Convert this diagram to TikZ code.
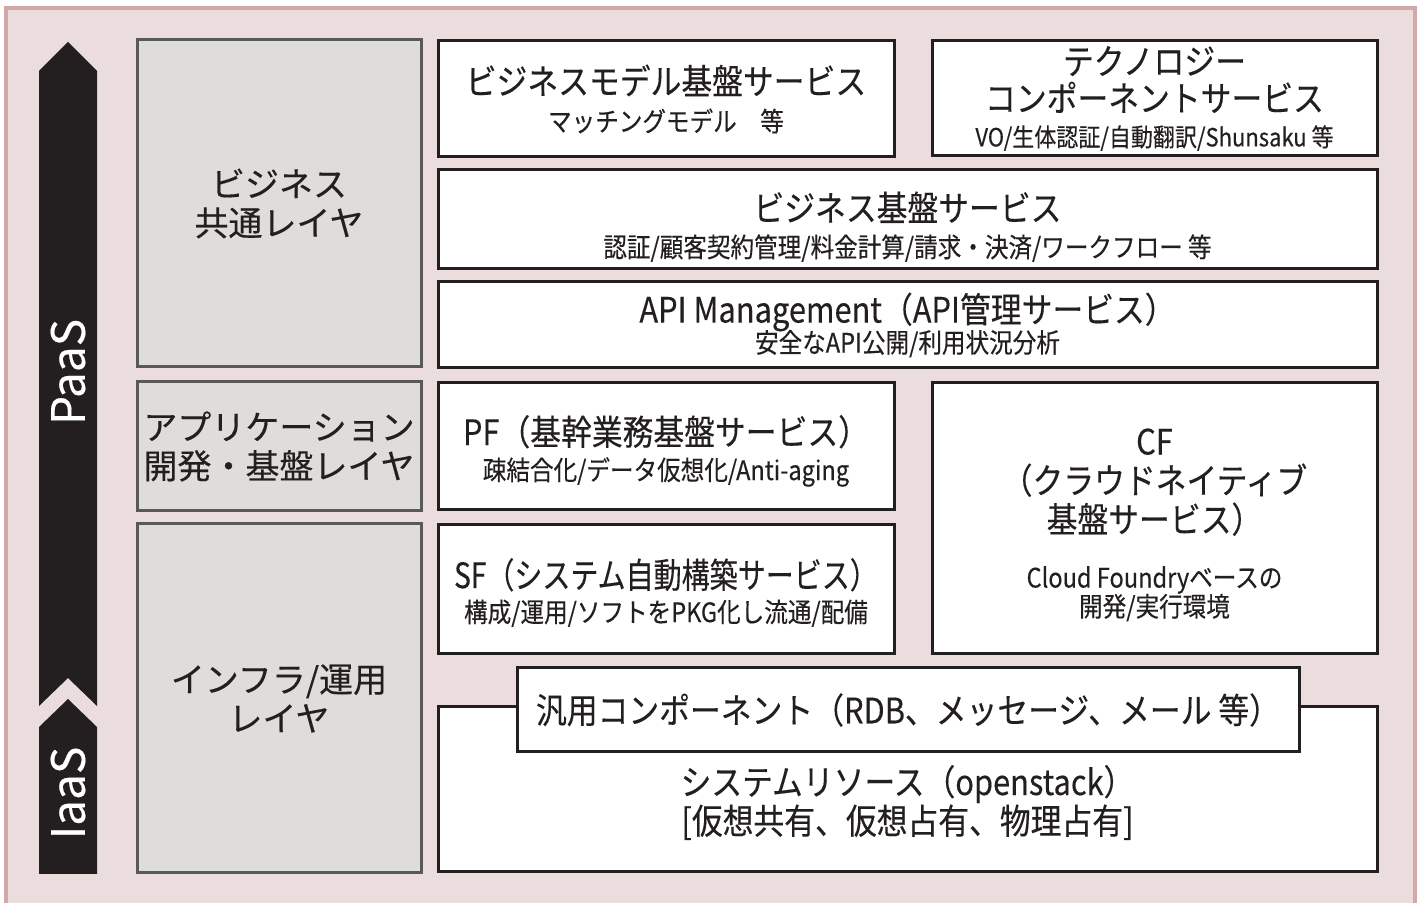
\documentclass[tikz,border=0pt]{standalone}
\usepackage{fontspec}
\usepackage{xcolor}
\usepackage{graphicx}
\newfontfamily\jpfont[FakeBold=0.3]{Noto Sans CJK JP}
\newfontfamily\jpnarrow[FakeStretch=0.88, FakeBold=0.3]{Noto Sans CJK JP}
\definecolor{framepink}{HTML}{EBDDDD}
\definecolor{framerose}{HTML}{D3A8A8}
\definecolor{layerfill}{HTML}{DFDDDA}
\definecolor{layerline}{HTML}{595959}
\definecolor{inkblack}{HTML}{231F20}
\newcommand{\subtxt}[1]{{\fontsize{13.4}{15}\selectfont #1}}
\newcommand{\lowerby}[1]{\rule{0pt}{#1}}

\tikzset{
  layerbox/.style={draw=layerline, fill=layerfill, line width=1.5pt, align=center, inner sep=0pt,
    text=inkblack, font=\jpfont\fontsize{17}{19.5}\selectfont},
  svcbox/.style={draw=inkblack, fill=white, line width=1.5pt, align=center, inner sep=0pt,
    text=inkblack, font=\jpnarrow\fontsize{17.5}{19.5}\selectfont},
  tierlabel/.style={text=white, rotate=90, inner sep=0pt, font=\jpfont\fontsize{23}{26}\selectfont}
}

\begin{document}
\begin{tikzpicture}[x=0.5pt, y=-0.5pt]
  \useasboundingbox (0,0) rectangle (1421,903);
  \clip (0,0) rectangle (1421,903);
  % outer frame
  \draw[draw=framerose, fill=framepink, line width=2pt] (6,8) rectangle (1415,940);

  % PaaS / IaaS arrows
  \fill[inkblack] (39,71) -- (68,42) -- (97,71) -- (97,706) -- (68,678) -- (39,706) -- cycle;
  \fill[inkblack] (39,727) -- (68,699) -- (97,727) -- (97,874) -- (39,874) -- cycle;
  \node[tierlabel] (paas) at (68,372) {PaaS};
  \node[tierlabel] (iaas) at (68,793) {IaaS};

  % layers
  \node[layerbox, minimum width=142pt, minimum height=163.5pt] (bizlayer) at (279,203.5)
    {ビジネス\\共通レイヤ};
  \node[layerbox, minimum width=142pt, minimum height=64.5pt] (applayer) at (279,446.5)
    {アプリケーション\\開発・基盤レイヤ};
  \node[layerbox, minimum width=142pt, minimum height=174.5pt] (infralayer) at (279,698.5)
    {インフラ/運用\\レイヤ};

  % services
  \node[svcbox, minimum width=228pt, minimum height=58pt] (bizmodel) at (666,99)
    {ビジネスモデル基盤サービス\\[-1pt]\subtxt{マッチングモデル　等}};
  \node[svcbox, minimum width=222.5pt, minimum height=57.5pt] (techcomp) at (1154.5,98.5)
    {テクノロジー\\[-1pt]コンポーネントサービス\\[-2pt]{\fontsize{12.5}{15}\selectfont VO/生体認証/自動翻訳/Shunsaku 等}};
  \node[svcbox, minimum width=469.5pt, minimum height=49.5pt] (bizbase) at (907.5,219.5)
    {\lowerby{22pt}ビジネス基盤サービス\\[-1.5pt]\subtxt{認証/顧客契約管理/料金計算/請求・決済/ワークフロー 等}};
  \node[svcbox, minimum width=469.5pt, minimum height=43pt] (apimgmt) at (907.5,325)
    {API Management（API管理サービス）\\[-4.5pt]\subtxt{安全なAPI公開/利用状況分析}};
  \node[svcbox, minimum width=228pt, minimum height=63.5pt] (pfsvc) at (666,446.5)
    {\lowerby{19.4pt}PF（基幹業務基盤サービス）\\[-2pt]\subtxt{疎結合化/データ仮想化/Anti-aging}};
  \node[svcbox, minimum width=228pt, minimum height=64.5pt] (sfsvc) at (666,589.5)
    {\lowerby{18pt}\scalebox{0.91}[1]{SF（システム自動構築サービス）}\\[-2.5pt]\subtxt{構成/運用/ソフトをPKG化し流通/配備}};
  \node[svcbox, minimum width=222.5pt, minimum height=135.5pt] (cfsvc) at (1154.5,518.5)
    {\lowerby{19.4pt}CF\\（クラウドネイティブ\\基盤サービス）\\[8pt]\subtxt{Cloud Foundryベースの}\\[-5pt]\subtxt{開発/実行環境}};
  \node[svcbox, minimum width=469.5pt, minimum height=82.5pt] (sysres) at (907.5,789.5) {};
  \node[text=inkblack, align=center, inner sep=0pt, font=\jpnarrow\fontsize{17.5}{19.5}\selectfont]
    (sysrestxt) at ([yshift=-6.5pt]sysres.center)
    {システムリソース（openstack）\\{}[仮想共有、仮想占有、物理占有]};
  \node[svcbox, minimum width=391pt, minimum height=42pt] (gencomp) at (908,710)
    {汎用コンポーネント（RDB、メッセージ、メール 等）};
\end{tikzpicture}
\end{document}
